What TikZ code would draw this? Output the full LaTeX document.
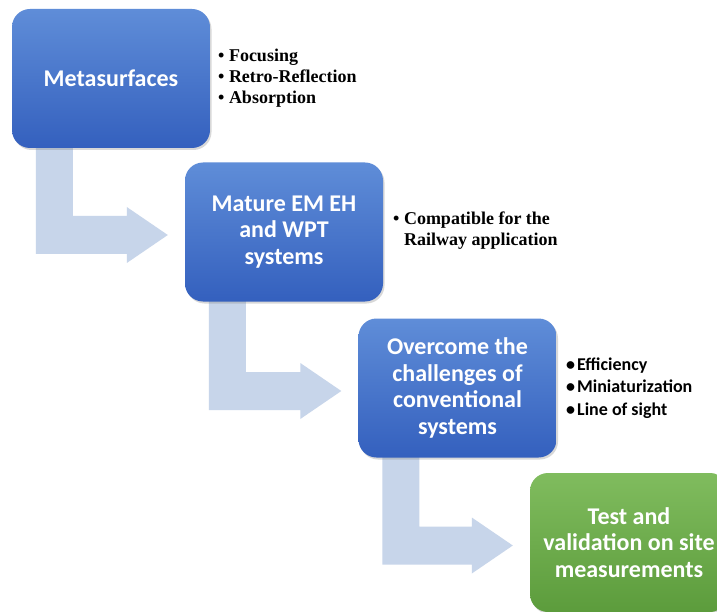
\documentclass[tikz,border=0pt]{standalone}
\usepackage{fontspec}
\setmainfont{Liberation Serif}
\newfontfamily\calfont{Carlito}
\usetikzlibrary{shadows,calc,backgrounds}
\definecolor{blueT}{HTML}{5F8DD8}
\definecolor{blueB}{HTML}{3460BE}
\definecolor{greenT}{HTML}{80BC5E}
\definecolor{greenB}{HTML}{5C9C3C}
\definecolor{arrowfill}{HTML}{C7D5EA}
\newcommand\bentarrow[2]{%
\fill[arrowfill] let \p1=(#1.south west), \p2=(#2.west) in
 (\x1+24pt,\y1+8pt) -- (\x1+61pt,\y1+8pt) -- (\x1+61pt,\y2+16pt) -- (\x2-58pt,\y2+16pt)
 -- (\x2-58pt,\y2+25pt) -- (\x2-17pt,\y2-3pt) -- (\x2-58pt,\y2-31pt) -- (\x2-58pt,\y2-22pt)
 -- (\x1+24pt,\y2-22pt) -- cycle;}
\begin{document}
\begin{tikzpicture}[x=1pt,y=-1pt,
  box/.style={rounded corners=18pt, minimum width=198pt, minimum height=139pt, inner sep=0pt,
    align=center, text=white, font=\calfont\bfseries\fontsize{24}{26.5}\selectfont,
    drop shadow={opacity=0.3, shadow xshift=1.5pt, shadow yshift=-2pt}},
  bluebox/.style={box, top color=blueT, bottom color=blueB},
  greenbox/.style={box, top color=greenT, bottom color=greenB},
  serifbul/.style={inner sep=0pt, anchor=west, font=\bfseries\fontsize{18}{21}\selectfont},
  sansbul/.style={inner sep=0pt, anchor=west, font=\calfont\bfseries\fontsize{18}{22.5}\selectfont}]
\useasboundingbox (0,0) rectangle (717,612);
\node[bluebox] (m1) at (111,78.5) {Metasurfaces};
\node[bluebox] (m2) at (284,232) {Mature EM EH\\and WPT\\systems};
\node[bluebox] (m3) at (457.5,388) {Overcome the\\challenges of\\conventional\\systems};
\node[greenbox] (m4) at (629,542.5) {Test and\\validation on site\\measurements};
\node[serifbul] (l1) at (218,78) {\begin{tabular}{@{}l@{}}• Focusing\\• Retro-Reflection\\• Absorption\end{tabular}};
\node[serifbul] (l2) at (393,230.5) {\begin{tabular}{@{}l@{ }l@{}}•&Compatible for the\\&Railway application\end{tabular}};
\node[sansbul] (l3) at (566,388) {\begin{tabular}{@{}l@{\hspace{2pt}}l@{}}•&Efficiency\\•&Miniaturization\\•&Line of sight\end{tabular}};
\begin{scope}[on background layer]
\fill[white] (0,0) rectangle (717,612);
\bentarrow{m1}{m2}
\bentarrow{m2}{m3}
\bentarrow{m3}{m4}
\end{scope}
\end{tikzpicture}
\end{document}
